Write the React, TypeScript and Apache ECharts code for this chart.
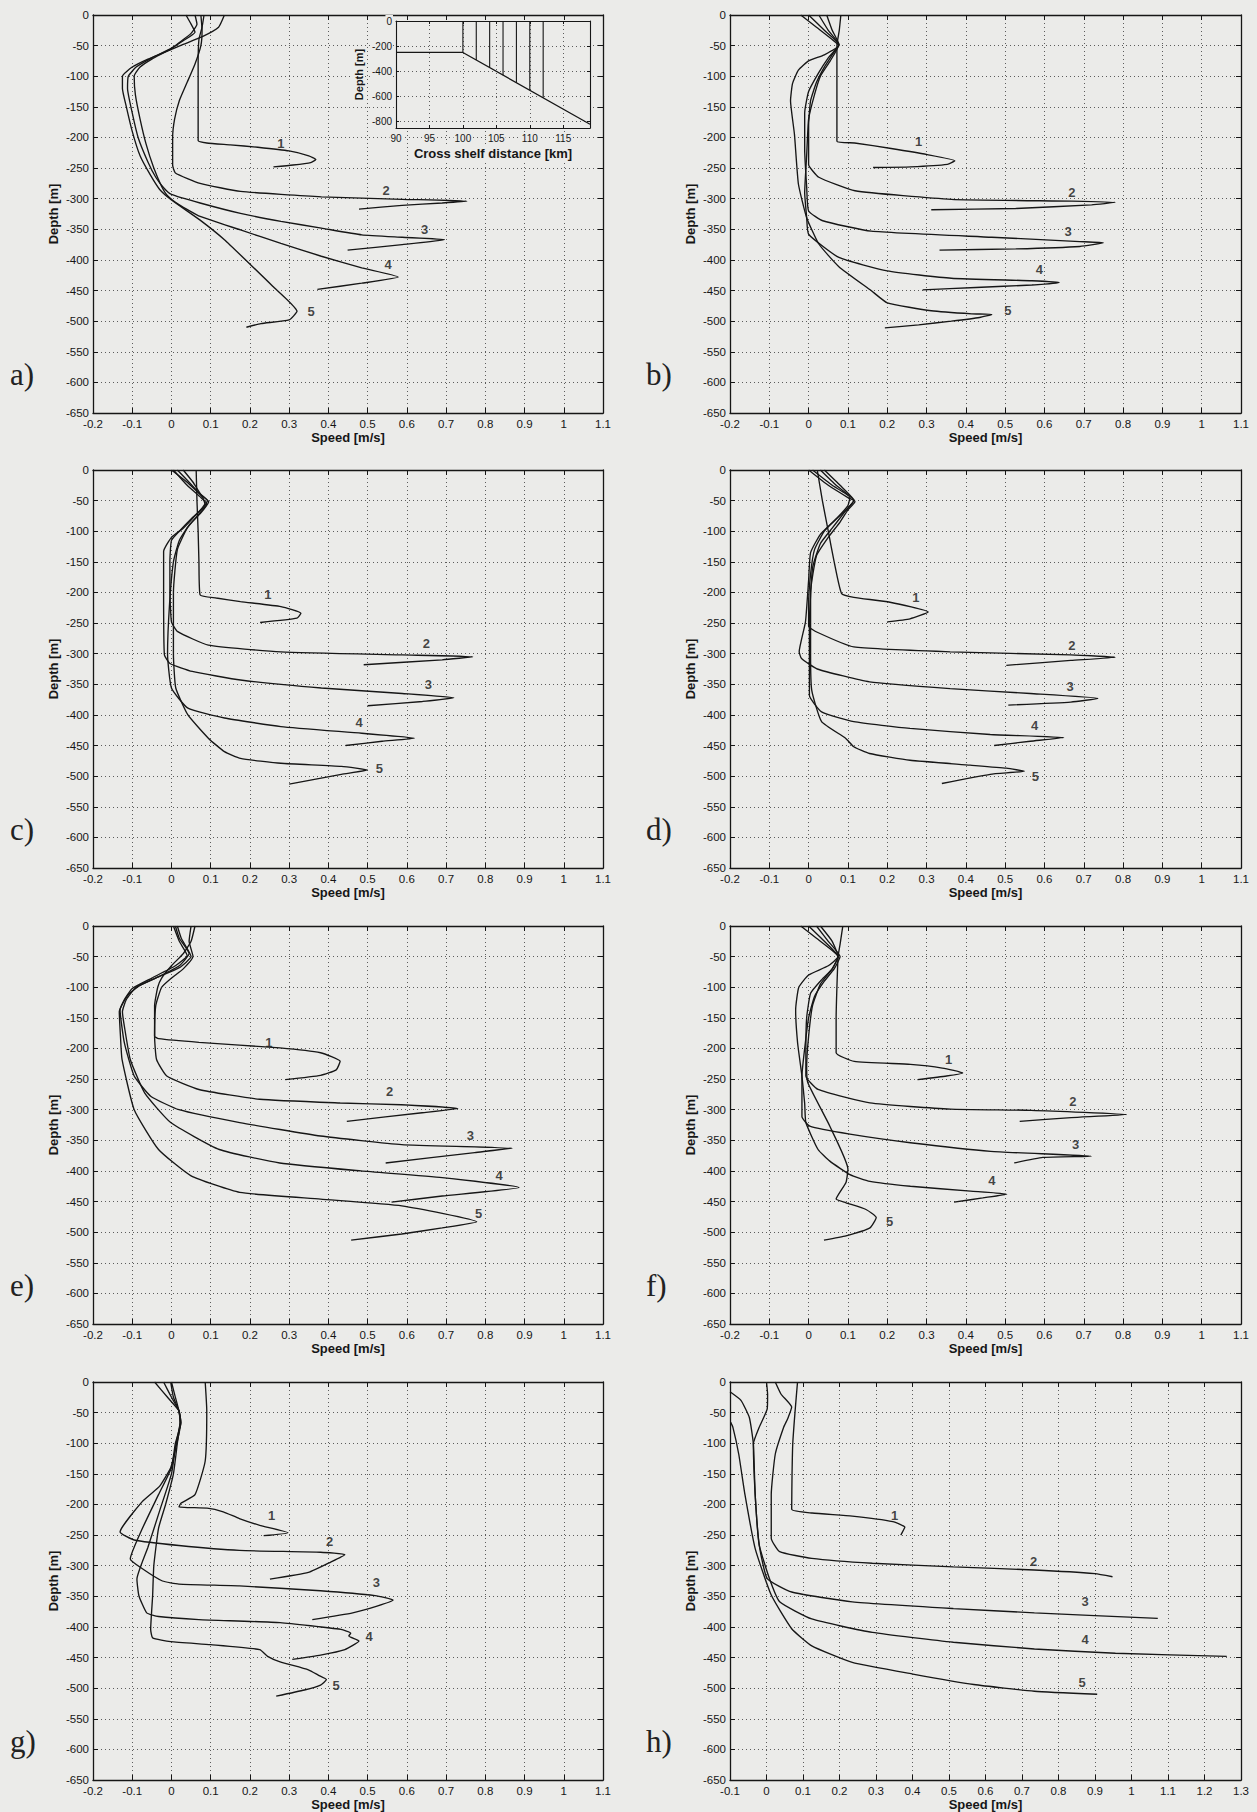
import React, { useEffect, useRef } from 'react';
import * as echarts from 'echarts';

// ---------------- DATA ----------------
// Each curve: [speed m/s, depth m]
const aC1 = [[0.083,0],[0.078,-20],[0.07,-40],[0.068,-80],[0.068,-150],[0.068,-205],[0.09,-209],[0.15,-212],[0.22,-216],[0.3,-222],[0.35,-230],[0.368,-236],[0.355,-241],[0.31,-245],[0.26,-248]];
const aC2 = [[0.075,0],[0.078,-25],[0.075,-50],[0.06,-80],[0.04,-110],[0.02,-140],[0.008,-170],[0.003,-200],[0.003,-245],[0.01,-258],[0.073,-275],[0.176,-288],[0.382,-297],[0.588,-301],[0.753,-304],[0.69,-307],[0.588,-311],[0.478,-317]];
const aC3 = [[0.037,0],[0.05,-15],[0.06,-28],[0.03,-42],[0.0,-54],[-0.05,-70],[-0.09,-85],[-0.11,-100],[-0.112,-120],[-0.1,-160],[-0.085,-200],[-0.06,-240],[-0.04,-265],[-0.02,-282],[0.0,-293],[0.073,-307],[0.176,-324],[0.279,-337],[0.382,-348],[0.485,-359],[0.588,-363],[0.696,-367],[0.588,-375],[0.449,-384]];
const aC4 = [[0.06,0],[0.065,-15],[0.05,-30],[0.02,-45],[0.0,-55],[-0.05,-72],[-0.08,-85],[-0.095,-100],[-0.092,-130],[-0.08,-170],[-0.065,-210],[-0.045,-250],[-0.025,-280],[-0.01,-295],[0.02,-310],[0.073,-329],[0.176,-351],[0.279,-373],[0.382,-394],[0.485,-413],[0.578,-428],[0.485,-438],[0.372,-448]];
const aC5 = [[0.135,0],[0.12,-20],[0.08,-35],[0.03,-48],[0.0,-56],[-0.06,-72],[-0.1,-85],[-0.125,-100],[-0.125,-120],[-0.115,-150],[-0.1,-190],[-0.08,-230],[-0.055,-260],[-0.03,-285],[0.0,-302],[0.073,-335],[0.135,-367],[0.197,-405],[0.258,-443],[0.32,-484],[0.3,-498],[0.228,-504],[0.191,-510]];
const aLabels = [[0.279,-210,'1'],[0.547,-286,'2'],[0.645,-350,'3'],[0.552,-408,'4'],[0.356,-485,'5']];

const bC1 = [[0.082,0],[0.078,-25],[0.072,-50],[0.072,-100],[0.072,-150],[0.072,-206],[0.117,-209],[0.21,-218],[0.302,-228],[0.372,-238],[0.353,-244],[0.26,-248],[0.164,-249]];
const bC2 = [[0.0,0],[0.04,-25],[0.077,-48],[0.06,-65],[0.04,-85],[0.02,-110],[0.005,-140],[0.0,-180],[0.0,-244],[0.026,-265],[0.118,-287],[0.363,-301],[0.67,-304],[0.78,-306],[0.72,-310],[0.527,-316],[0.312,-318]];
const bC3 = [[0.026,0],[0.05,-25],[0.077,-48],[0.05,-70],[0.025,-95],[0.0,-125],[-0.01,-160],[-0.01,-220],[-0.005,-280],[0.0,-320],[0.036,-336],[0.159,-353],[0.466,-363],[0.69,-370],[0.75,-372],[0.69,-378],[0.527,-382],[0.333,-384]];
const bC4 = [[0.046,0],[0.06,-25],[0.077,-48],[0.055,-75],[0.03,-100],[0.015,-130],[0.0,-170],[-0.005,-230],[-0.01,-290],[-0.005,-330],[0.0,-358],[0.077,-396],[0.2,-418],[0.363,-430],[0.568,-434],[0.638,-437],[0.568,-441],[0.425,-445],[0.29,-449]];
const bC5 = [[-0.02,0],[0.02,-20],[0.06,-40],[0.077,-50],[0.04,-65],[0.0,-75],[-0.026,-90],[-0.041,-112],[-0.046,-140],[-0.036,-195],[-0.026,-276],[-0.005,-331],[0.026,-374],[0.077,-411],[0.159,-450],[0.2,-470],[0.312,-483],[0.415,-488],[0.466,-489],[0.435,-494],[0.363,-500],[0.28,-506],[0.194,-511]];
const bLabels = [[0.28,-207,'1'],[0.67,-290,'2'],[0.66,-353,'3'],[0.587,-415,'4'],[0.507,-482,'5']];

const cC1 = [[0.063,0],[0.065,-50],[0.068,-100],[0.07,-150],[0.073,-204],[0.114,-209],[0.176,-215],[0.279,-223],[0.33,-234],[0.32,-242],[0.226,-249]];
const cC2 = [[0.0,0],[0.04,-20],[0.07,-38],[0.092,-50],[0.08,-62],[0.05,-80],[0.02,-100],[0.0,-115],[-0.004,-150],[-0.004,-193],[0.0,-248],[0.016,-264],[0.094,-286],[0.279,-297],[0.588,-302],[0.768,-305],[0.69,-310],[0.49,-318]];
const cC3 = [[0.015,0],[0.045,-20],[0.08,-45],[0.085,-55],[0.06,-75],[0.03,-95],[0.0,-110],[-0.02,-133],[-0.02,-200],[-0.018,-302],[-0.004,-316],[0.053,-329],[0.176,-343],[0.382,-356],[0.588,-365],[0.72,-372],[0.64,-378],[0.5,-385]];
const cC4 = [[0.03,0],[0.055,-20],[0.075,-40],[0.095,-52],[0.075,-70],[0.045,-90],[0.02,-115],[0.005,-150],[-0.005,-220],[-0.01,-300],[0.0,-356],[0.042,-389],[0.135,-405],[0.279,-419],[0.485,-430],[0.619,-438],[0.537,-443],[0.444,-450]];
const cC5 = [[0.005,0],[0.04,-25],[0.075,-45],[0.09,-55],[0.07,-72],[0.04,-95],[0.015,-130],[0.005,-200],[0.005,-300],[0.011,-356],[0.042,-400],[0.094,-438],[0.135,-460],[0.176,-471],[0.279,-479],[0.433,-484],[0.5,-490],[0.433,-497],[0.3,-513]];
const cLabels = [[0.246,-204,'1'],[0.65,-283,'2'],[0.655,-350,'3'],[0.478,-413,'4'],[0.53,-487,'5']];

const dC1 = [[0.022,0],[0.035,-50],[0.05,-100],[0.065,-150],[0.084,-202],[0.115,-208],[0.207,-216],[0.304,-232],[0.258,-243],[0.2,-248]];
const dC2 = [[0.0,0],[0.05,-25],[0.1,-45],[0.115,-50],[0.1,-62],[0.07,-80],[0.04,-100],[0.015,-130],[0.005,-170],[0.0,-220],[0.0,-255],[0.022,-265],[0.115,-289],[0.36,-297],[0.667,-302],[0.78,-306],[0.667,-311],[0.503,-319]];
const dC3 = [[0.01,0],[0.06,-25],[0.105,-45],[0.1,-58],[0.07,-80],[0.03,-105],[0.005,-135],[0.0,-180],[-0.008,-248],[-0.024,-297],[-0.018,-308],[0.022,-325],[0.155,-346],[0.36,-357],[0.564,-365],[0.736,-373],[0.667,-379],[0.508,-384]];
const dC4 = [[0.03,0],[0.07,-25],[0.115,-50],[0.09,-70],[0.06,-95],[0.03,-120],[0.01,-160],[0.002,-250],[0.002,-320],[0.002,-368],[0.033,-395],[0.115,-411],[0.258,-422],[0.462,-432],[0.649,-437],[0.564,-443],[0.472,-450]];
const dC5 = [[0.04,0],[0.08,-25],[0.118,-52],[0.1,-65],[0.08,-85],[0.05,-110],[0.02,-140],[0.005,-200],[0.005,-300],[0.008,-360],[0.033,-411],[0.094,-438],[0.115,-452],[0.155,-463],[0.258,-474],[0.411,-482],[0.503,-487],[0.549,-492],[0.462,-497],[0.339,-512]];
const dLabels = [[0.273,-209,'1'],[0.67,-286,'2'],[0.665,-353,'3'],[0.575,-418,'4'],[0.577,-501,'5']];

const eC1 = [[0.06,0],[0.05,-25],[0.03,-45],[0.0,-65],[-0.025,-85],[-0.035,-100],[-0.043,-130],[-0.043,-180],[-0.033,-184],[0.07,-190],[0.276,-199],[0.38,-207],[0.43,-221],[0.42,-235],[0.38,-244],[0.29,-251]];
const eC2 = [[0.05,0],[0.045,-25],[0.055,-50],[0.03,-70],[0.0,-85],[-0.025,-100],[-0.04,-130],[-0.043,-180],[-0.038,-218],[-0.012,-245],[0.07,-267],[0.225,-283],[0.43,-289],[0.586,-292],[0.73,-298],[0.639,-305],[0.447,-319]];
const eC3 = [[0.01,0],[0.02,-20],[0.045,-45],[0.02,-65],[-0.03,-82],[-0.08,-97],[-0.11,-112],[-0.131,-137],[-0.12,-191],[-0.095,-245],[-0.053,-278],[0.019,-300],[0.174,-321],[0.38,-343],[0.587,-357],[0.868,-363],[0.773,-370],[0.546,-387]];
const eC4 = [[0.015,0],[0.025,-20],[0.05,-50],[0.02,-68],[-0.04,-85],[-0.09,-100],[-0.115,-120],[-0.125,-140],[-0.12,-164],[-0.105,-218],[-0.068,-273],[-0.002,-321],[0.122,-365],[0.276,-387],[0.483,-400],[0.69,-411],[0.886,-427],[0.69,-441],[0.561,-451]];
const eC5 = [[0.005,0],[0.02,-25],[0.04,-48],[0.01,-65],[-0.05,-85],[-0.1,-102],[-0.12,-120],[-0.133,-140],[-0.13,-180],[-0.126,-218],[-0.095,-300],[-0.033,-365],[0.05,-408],[0.174,-435],[0.38,-446],[0.587,-457],[0.778,-483],[0.69,-493],[0.587,-503],[0.458,-513]];
const eLabels = [[0.248,-191,'1'],[0.556,-271,'2'],[0.762,-342,'3'],[0.835,-408,'4'],[0.783,-469,'5']];

const fC1 = [[0.087,0],[0.08,-30],[0.075,-50],[0.072,-100],[0.07,-150],[0.07,-207],[0.116,-221],[0.259,-226],[0.34,-232],[0.392,-240],[0.351,-245],[0.277,-251]];
const fC2 = [[0.0,0],[0.04,-25],[0.075,-50],[0.06,-70],[0.03,-90],[0.005,-110],[-0.005,-150],[-0.007,-202],[-0.007,-245],[0.024,-267],[0.156,-289],[0.361,-299],[0.566,-301],[0.809,-308],[0.668,-313],[0.537,-319]];
const fC3 = [[0.02,0],[0.05,-25],[0.08,-50],[0.065,-70],[0.04,-90],[0.015,-115],[0.0,-150],[-0.01,-200],[-0.017,-245],[-0.017,-311],[0.003,-327],[0.105,-340],[0.259,-354],[0.463,-368],[0.719,-376],[0.596,-378],[0.523,-387]];
const fC4 = [[0.03,0],[0.06,-25],[0.075,-50],[0.05,-65],[0.0,-80],[-0.025,-100],[-0.033,-137],[-0.028,-191],[-0.017,-245],[-0.01,-290],[-0.007,-321],[0.024,-365],[0.054,-384],[0.105,-406],[0.156,-417],[0.259,-425],[0.412,-433],[0.504,-438],[0.443,-444],[0.37,-451]];
const fC5 = [[-0.02,0],[0.02,-20],[0.06,-40],[0.075,-50],[0.06,-70],[0.03,-95],[0.01,-130],[0.0,-180],[-0.005,-230],[-0.002,-256],[0.054,-327],[0.1,-397],[0.095,-419],[0.07,-446],[0.095,-452],[0.146,-463],[0.172,-476],[0.156,-493],[0.095,-506],[0.039,-513]];
const fLabels = [[0.356,-218,'1'],[0.672,-286,'2'],[0.679,-357,'3'],[0.466,-416,'4'],[0.206,-482,'5']];

const gC1 = [[0.086,0],[0.09,-47],[0.086,-129],[0.06,-184],[0.024,-198],[0.019,-204],[0.091,-206],[0.132,-212],[0.173,-223],[0.225,-234],[0.297,-246],[0.235,-251]];
const gC2 = [[-0.043,0],[-0.01,-25],[0.019,-47],[0.024,-66],[0.01,-110],[-0.002,-140],[-0.03,-170],[-0.074,-195],[-0.131,-245],[-0.095,-258],[0.019,-267],[0.173,-275],[0.38,-278],[0.442,-282],[0.406,-294],[0.349,-311],[0.251,-322]];
const gC3 = [[-0.02,0],[0.0,-25],[0.019,-47],[0.024,-66],[0.01,-100],[0.0,-140],[-0.033,-184],[-0.074,-239],[-0.105,-289],[-0.074,-305],[-0.023,-325],[0.019,-330],[0.173,-333],[0.38,-341],[0.519,-349],[0.565,-356],[0.524,-366],[0.462,-377],[0.359,-388]];
const gC4 = [[0.0,0],[0.01,-25],[0.019,-47],[0.022,-66],[0.012,-100],[0.0,-150],[-0.03,-210],[-0.06,-270],[-0.088,-322],[-0.083,-349],[-0.063,-377],[-0.033,-383],[0.07,-388],[0.277,-393],[0.432,-404],[0.457,-410],[0.452,-415],[0.478,-423],[0.442,-437],[0.38,-446],[0.308,-453]];
const gC5 = [[-0.002,0],[0.005,-25],[0.019,-47],[0.022,-66],[0.015,-100],[0.005,-150],[-0.015,-200],[-0.033,-239],[-0.045,-300],[-0.048,-349],[-0.053,-404],[-0.048,-418],[-0.002,-424],[0.1,-429],[0.225,-437],[0.245,-448],[0.277,-457],[0.349,-470],[0.375,-479],[0.395,-486],[0.38,-495],[0.339,-503],[0.267,-513]];
const gLabels = [[0.255,-218,'1'],[0.403,-260,'2'],[0.522,-327,'3'],[0.504,-415,'4'],[0.42,-495,'5']];

const hC1 = [[0.085,0],[0.078,-50],[0.072,-100],[0.07,-150],[0.069,-208],[0.125,-214],[0.235,-219],[0.346,-228],[0.379,-237],[0.368,-250]];
const hC2 = [[0.024,0],[0.04,-20],[0.069,-41],[0.058,-60],[0.047,-74],[0.024,-118],[0.013,-184],[0.013,-255],[0.036,-277],[0.124,-288],[0.29,-296],[0.512,-302],[0.734,-307],[0.9,-313],[0.948,-318]];
const hC3 = [[0.0,0],[0.003,-20],[0.002,-44],[-0.02,-74],[-0.036,-101],[-0.031,-184],[-0.02,-266],[0.002,-321],[0.069,-343],[0.235,-359],[0.512,-370],[0.734,-377],[1.072,-386]];
const hC4 = [[-0.1,-16],[-0.07,-30],[-0.047,-58],[-0.036,-101],[-0.031,-184],[-0.02,-266],[0.008,-321],[0.036,-359],[0.124,-387],[0.29,-409],[0.512,-425],[0.734,-436],[0.956,-443],[1.261,-448]];
const hC5 = [[-0.098,-66],[-0.092,-74],[-0.076,-118],[-0.059,-184],[-0.031,-272],[0.013,-348],[0.069,-403],[0.124,-431],[0.235,-458],[0.401,-477],[0.568,-494],[0.734,-505],[0.906,-510]];
const hLabels = [[0.351,-218,'1'],[0.732,-293,'2'],[0.873,-359,'3'],[0.873,-420,'4'],[0.865,-490,'5']];

// Inset: bathymetry (km, m) and station lines
const insetBathymetry = [[90,-250],[100,-250],[119,-820]];
const stationKm = [100,102,104,106,108,110,112];
const stationBottom = [-250,-310,-370,-430,-490,-550,-610];

const panelIds = ['a','b','c','d','e','f','g','h'];
const panelCurves = [
  [aC1,aC2,aC3,aC4,aC5],[bC1,bC2,bC3,bC4,bC5],[cC1,cC2,cC3,cC4,cC5],[dC1,dC2,dC3,dC4,dC5],
  [eC1,eC2,eC3,eC4,eC5],[fC1,fC2,fC3,fC4,fC5],[gC1,gC2,gC3,gC4,gC5],[hC1,hC2,hC3,hC4,hC5],
];
const panelLabels = [aLabels,bLabels,cLabels,dLabels,eLabels,fLabels,gLabels,hLabels];
const panelXRange = [[-0.2,1.1],[-0.2,1.1],[-0.2,1.1],[-0.2,1.1],[-0.2,1.1],[-0.2,1.1],[-0.2,1.1],[-0.1,1.3]];

// ---------------- STYLE / LAYOUT ----------------
const PAPER = '#ebebe9';
const INK = '#161616';
const FONT = '"Liberation Sans", Arial, Helvetica, sans-serif';
const ROW_TOPS = [15, 470, 926, 1382];
const COL_LEFT = [93, 730];
const COL_W = [510, 511];
const PLOT_H = 398;

const gridLine = { color: '#5c5c5c', width: 1, type: [1, 3] as any };
const frameLine = { color: INK, width: 1.3 };

const fmtX = (v: number) => String(Math.round(v * 10) / 10);
const fmtY = (v: number) => String(Math.round(v));

function buildOption() {
  const grid: any[] = [];
  const xAxis: any[] = [];
  const yAxis: any[] = [];
  const series: any[] = [];
  const graphic: any[] = [];

  panelIds.forEach((id, i) => {
    const col = i % 2;
    const row = Math.floor(i / 2);
    const top = ROW_TOPS[row];
    grid.push({ left: COL_LEFT[col], top, width: COL_W[col], height: PLOT_H, containLabel: false });
    const gi = grid.length - 1;
    const [xmin, xmax] = panelXRange[i];
    xAxis.push({
      gridIndex: gi, type: 'value', position: 'bottom', min: xmin, max: xmax, interval: 0.1,
      axisLine: { show: true, onZero: false, lineStyle: frameLine },
      axisTick: { show: true, inside: true, length: 5, lineStyle: { color: INK, width: 1 } },
      axisLabel: { formatter: fmtX, fontSize: 11.5, color: INK, margin: 5, fontFamily: FONT },
      splitLine: { show: true, lineStyle: gridLine },
      name: 'Speed [m/s]', nameLocation: 'middle', nameGap: 18,
      nameTextStyle: { fontSize: 13, fontWeight: 'bold', color: INK, fontFamily: FONT },
    });
    xAxis.push({
      gridIndex: gi, type: 'value', position: 'top', min: xmin, max: xmax, interval: 0.1,
      axisLine: { show: true, onZero: false, lineStyle: frameLine },
      axisTick: { show: true, inside: true, length: 5, lineStyle: { color: INK, width: 1 } },
      axisLabel: { show: false }, splitLine: { show: false },
    });
    yAxis.push({
      gridIndex: gi, type: 'value', position: 'left', min: -650, max: 0, interval: 50,
      axisLine: { show: true, onZero: false, lineStyle: frameLine },
      axisTick: { show: true, inside: true, length: 5, lineStyle: { color: INK, width: 1 } },
      axisLabel: { formatter: fmtY, fontSize: 11.5, color: INK, margin: 4, fontFamily: FONT },
      splitLine: { show: true, lineStyle: gridLine },
      name: 'Depth [m]', nameLocation: 'middle', nameGap: 33,
      nameTextStyle: { fontSize: 13, fontWeight: 'bold', color: INK, fontFamily: FONT },
    });
    yAxis.push({
      gridIndex: gi, type: 'value', position: 'right', min: -650, max: 0, interval: 50,
      axisLine: { show: true, onZero: false, lineStyle: frameLine },
      axisTick: { show: true, inside: true, length: 5, lineStyle: { color: INK, width: 1 } },
      axisLabel: { show: false }, splitLine: { show: false },
    });
    const xi = xAxis.length - 2;
    const yi = yAxis.length - 2;
    panelCurves[i].forEach((c, k) => {
      series.push({
        type: 'line', name: `${id}${k + 1}`, xAxisIndex: xi, yAxisIndex: yi, data: c,
        showSymbol: false, symbol: 'none', silent: true, clip: true, z: 3, smooth: 0.15,
        lineStyle: { color: INK, width: 1.35 },
      });
    });
    series.push({
      type: 'scatter', xAxisIndex: xi, yAxisIndex: yi, silent: true, symbolSize: 0, z: 4,
      data: panelLabels[i].map((l) => ({ value: [l[0], l[1]], name: l[2] })),
      itemStyle: { color: 'rgba(0,0,0,0)' },
      label: { show: true, position: 'inside', formatter: '{b}', fontSize: 13, fontWeight: 'bold', color: INK, fontFamily: FONT },
    });
    graphic.push({
      type: 'text', x: col === 0 ? 10 : 646, y: top + 359, silent: true,
      style: { text: id + ')', fontSize: 31, fontFamily: '"Liberation Serif", "DejaVu Serif", serif', fill: '#222', verticalAlign: 'middle' },
    });
  });

  // Inset in panel a
  grid.push({ left: 396, top: 21, width: 194, height: 107, show: true, backgroundColor: PAPER, borderWidth: 0, z: 10 });
  const ig = grid.length - 1;
  const insetLabelBg = { backgroundColor: PAPER, padding: [1, 1] };
  xAxis.push({
    gridIndex: ig, type: 'value', position: 'bottom', min: 90, max: 119, interval: 5, z: 11,
    axisLine: { show: true, onZero: false, lineStyle: { color: INK, width: 1.1 } },
    axisTick: { show: true, inside: true, length: 3, lineStyle: { color: INK } },
    axisLabel: { formatter: (v: number) => (v % 5 === 0 ? String(v) : ''), fontSize: 10, color: INK, margin: 4, fontFamily: FONT, ...insetLabelBg },
    splitLine: { show: true, lineStyle: gridLine },
    name: 'Cross shelf distance [km]', nameLocation: 'middle', nameGap: 18,
    nameTextStyle: { fontSize: 13, fontWeight: 'bold', color: INK, fontFamily: FONT, ...insetLabelBg },
  });
  xAxis.push({
    gridIndex: ig, type: 'value', position: 'top', min: 90, max: 119, interval: 5, z: 11,
    axisLine: { show: true, onZero: false, lineStyle: { color: INK, width: 1.1 } },
    axisTick: { show: true, inside: true, length: 3, lineStyle: { color: INK } },
    axisLabel: { show: false }, splitLine: { show: false },
  });
  yAxis.push({
    gridIndex: ig, type: 'value', position: 'left', min: -850, max: 0, splitNumber: 5, z: 11,
    axisLine: { show: true, onZero: false, lineStyle: { color: INK, width: 1.1 } },
    axisTick: { show: true, inside: true, length: 3, lineStyle: { color: INK } },
    axisLabel: { formatter: (v: number) => (Math.round(v) % 200 === 0 ? String(Math.round(v)) : ''), fontSize: 10, color: INK, margin: 3, fontFamily: FONT, ...insetLabelBg },
    splitLine: { show: true, lineStyle: gridLine },
    name: 'Depth [m]', nameLocation: 'middle', nameGap: 31,
    nameTextStyle: { fontSize: 11, fontWeight: 'bold', color: INK, fontFamily: FONT, ...insetLabelBg },
  });
  yAxis.push({
    gridIndex: ig, type: 'value', position: 'right', min: -850, max: 0, splitNumber: 5, z: 11,
    axisLine: { show: true, onZero: false, lineStyle: { color: INK, width: 1.1 } },
    axisTick: { show: true, inside: true, length: 3, lineStyle: { color: INK } },
    axisLabel: { show: false }, splitLine: { show: false },
  });
  const ixi = xAxis.length - 2;
  const iyi = yAxis.length - 2;
  series.push({
    type: 'line', name: 'bathymetry', xAxisIndex: ixi, yAxisIndex: iyi, data: insetBathymetry,
    showSymbol: false, symbol: 'none', silent: true, z: 12, lineStyle: { color: INK, width: 1.3 },
  });
  stationKm.forEach((km, k) => {
    series.push({
      type: 'line', name: `st${k}`, xAxisIndex: ixi, yAxisIndex: iyi, data: [[km, 0], [km, stationBottom[k]]],
      showSymbol: false, symbol: 'none', silent: true, z: 12, lineStyle: { color: INK, width: 1.1 },
    });
  });

  return {
    animation: false,
    backgroundColor: PAPER,
    textStyle: { fontFamily: FONT },
    grid, xAxis, yAxis, series, graphic,
  };
}

export default function App() {
  const ref = useRef<HTMLDivElement>(null);
  useEffect(() => {
    if (!ref.current) return;
    const chart = echarts.init(ref.current, null, { renderer: 'svg' });
    chart.setOption(buildOption() as any);
    return () => chart.dispose();
  }, []);
  return (
    <div
      ref={ref}
      style={{ position: 'absolute', left: 0, top: 0, width: 1257, height: 1812, background: PAPER }}
    />
  );
}
